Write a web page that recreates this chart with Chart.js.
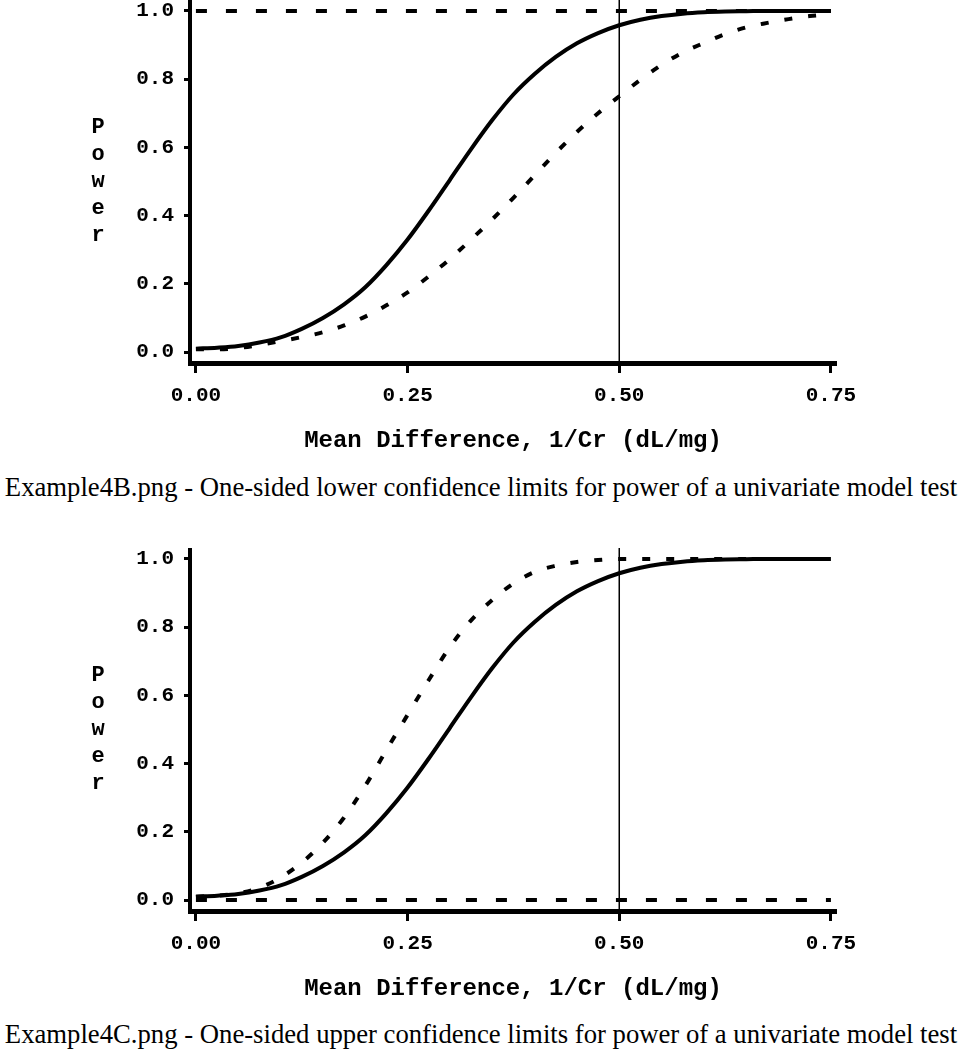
<!DOCTYPE html>
<html>
<head>
<meta charset="utf-8">
<title>Power curves with one-sided confidence limits</title>
<script src="https://cdn.jsdelivr.net/npm/chart.js@4.4.0/dist/chart.umd.min.js"></script>
<style>
  body { margin: 0; background: #fff; width: 962px; height: 1050px; position: relative; overflow: hidden; }
  .panel { position: absolute; left: 0; width: 962px; height: 470px; }
  .panel canvas { position: absolute; left: 0; top: 0; }
  .ytitle { position: absolute; left: 88px; width: 20px; font: bold 22px "Liberation Mono", monospace;
            line-height: 27px; word-break: break-all; text-align: center; color: #000; }
  .caption { position: absolute; left: 0; width: 962px; text-align: center; white-space: nowrap;
             font: 26.7px "Liberation Serif", serif; color: #000; }
</style>
</head>
<body>
<div class="panel" style="top:0px">
  <canvas id="chart4B" width="962" height="470"></canvas>
  <div class="ytitle" style="top:114px">Power</div>
</div>
<div class="caption" style="top:472px">Example4B.png - One-sided lower confidence limits for power of a univariate model test</div>

<div class="panel" style="top:548px">
  <canvas id="chart4C" width="962" height="470"></canvas>
  <div class="ytitle" style="top:114px">Power</div>
</div>
<div class="caption" style="top:1019px">Example4C.png - One-sided upper confidence limits for power of a univariate model test</div>

<script>
// mean difference, 1/Cr (dL/mg)
const meanDiff = [0.000, 0.025, 0.050, 0.075, 0.100, 0.125, 0.150, 0.175, 0.200, 0.225,
                  0.250, 0.275, 0.300, 0.325, 0.350, 0.375, 0.400, 0.425, 0.450, 0.475,
                  0.500, 0.525, 0.550, 0.575, 0.600, 0.625, 0.650, 0.675, 0.700, 0.725, 0.750];

// estimated power (solid curve, same in both panels)
const powerEstimate = [0.010, 0.013, 0.018, 0.028, 0.043, 0.068, 0.100, 0.140, 0.190, 0.255,
                       0.330, 0.415, 0.505, 0.595, 0.680, 0.755, 0.815, 0.865, 0.905, 0.935,
                       0.958, 0.974, 0.985, 0.992, 0.996, 0.998, 0.999, 1.000, 1.000, 1.000, 1.000];

// 4B: one-sided lower confidence limit (dashed curve)
const lowerLimit4B = [0.008, 0.008, 0.012, 0.021, 0.032, 0.044, 0.058, 0.078, 0.104, 0.137,
                      0.175, 0.222, 0.273, 0.330, 0.389, 0.452, 0.518, 0.584, 0.645, 0.700,
                      0.750, 0.798, 0.842, 0.878, 0.906, 0.932, 0.952, 0.965, 0.976, 0.985, 0.990];

// 4C: one-sided upper confidence limit (dashed curve)
const upperLimit4C = [0.010, 0.013, 0.020, 0.036, 0.066, 0.110, 0.168, 0.242, 0.335, 0.440,
                      0.543, 0.645, 0.742, 0.820, 0.880, 0.928, 0.962, 0.980, 0.991, 0.997,
                      1.000, 1.000, 1.000, 1.000, 1.000, 1.000, 1.000, 1.000, 1.000, 1.000, 1.000];

// the other (trivial) bound of each one-sided interval
const boundDiff = [0.00, 0.75];
const upperBound4B = [1.0, 1.0];
const lowerBound4C = [0.0, 0.0];

const refDiff = 0.50;                 // vertical reference line
const xTicks = [0.00, 0.25, 0.50, 0.75];
const yTicks = [0.0, 0.2, 0.4, 0.6, 0.8, 1.0];
const xRange = [-0.007, 0.756];
const yRange = [-0.032, 1.032];

const monoBold = size => ({ family: '"Liberation Mono", monospace', size: size, weight: 'bold', lineHeight: 1.2 });

function pts(xs, ys) {
  return xs.map((x, i) => ({ x: x, y: ys[i] }));
}

function makeChart(id, limitCurve, flatBound) {
  const datasets = [
    { data: pts(meanDiff, powerEstimate), borderColor: '#000', borderWidth: 4,
      cubicInterpolationMode: 'monotone' },
    { data: pts(meanDiff, limitCurve), borderColor: '#000', borderWidth: 4,
      borderDash: [8, 16], cubicInterpolationMode: 'monotone' },
    { data: pts(boundDiff, flatBound), borderColor: '#000', borderWidth: 4, borderDash: [11, 19] },
    { data: pts([refDiff, refDiff], yRange), borderColor: '#000', borderWidth: 1.5 }
  ];
  return new Chart(document.getElementById(id), {
    type: 'line',
    data: { datasets: datasets },
    options: {
      responsive: false,
      animation: false,
      layout: { padding: { left: 0, right: 126, top: 0, bottom: 0 } },
      elements: { point: { radius: 0 } },
      plugins: { legend: { display: false }, tooltip: { enabled: false } },
      scales: {
        x: {
          type: 'linear',
          min: xRange[0], max: xRange[1],
          afterBuildTicks: s => { s.ticks = xTicks.map(v => ({ value: v })); },
          afterFit: s => { s.height = 107; s.paddingLeft = 0; s.paddingRight = 0; },
          border: { display: true, color: '#000', width: 5 },
          grid: { drawOnChartArea: false, drawTicks: true, tickLength: 10, tickWidth: 3, tickColor: '#000' },
          ticks: { color: '#000', font: monoBold(21), padding: 10, maxRotation: 0,
                   callback: v => v.toFixed(2) },
          title: { display: true, text: 'Mean Difference, 1/Cr (dL/mg)', color: '#000',
                   font: monoBold(24), padding: { top: 0, bottom: 15 } }
        },
        y: {
          type: 'linear',
          min: yRange[0], max: yRange[1],
          afterBuildTicks: s => { s.ticks = yTicks.map(v => ({ value: v })); },
          afterFit: s => { s.width = 190; s.paddingTop = 0; s.paddingBottom = 0; },
          border: { display: true, color: '#000', width: 4 },
          grid: { drawOnChartArea: false, drawTicks: true, tickLength: 6, tickWidth: 3, tickColor: '#000' },
          ticks: { color: '#000', font: monoBold(21), padding: 10,
                   callback: v => v.toFixed(1) }
        }
      }
    }
  });
}

makeChart('chart4B', lowerLimit4B, upperBound4B);
makeChart('chart4C', upperLimit4C, lowerBound4C);
</script>
</body>
</html>
